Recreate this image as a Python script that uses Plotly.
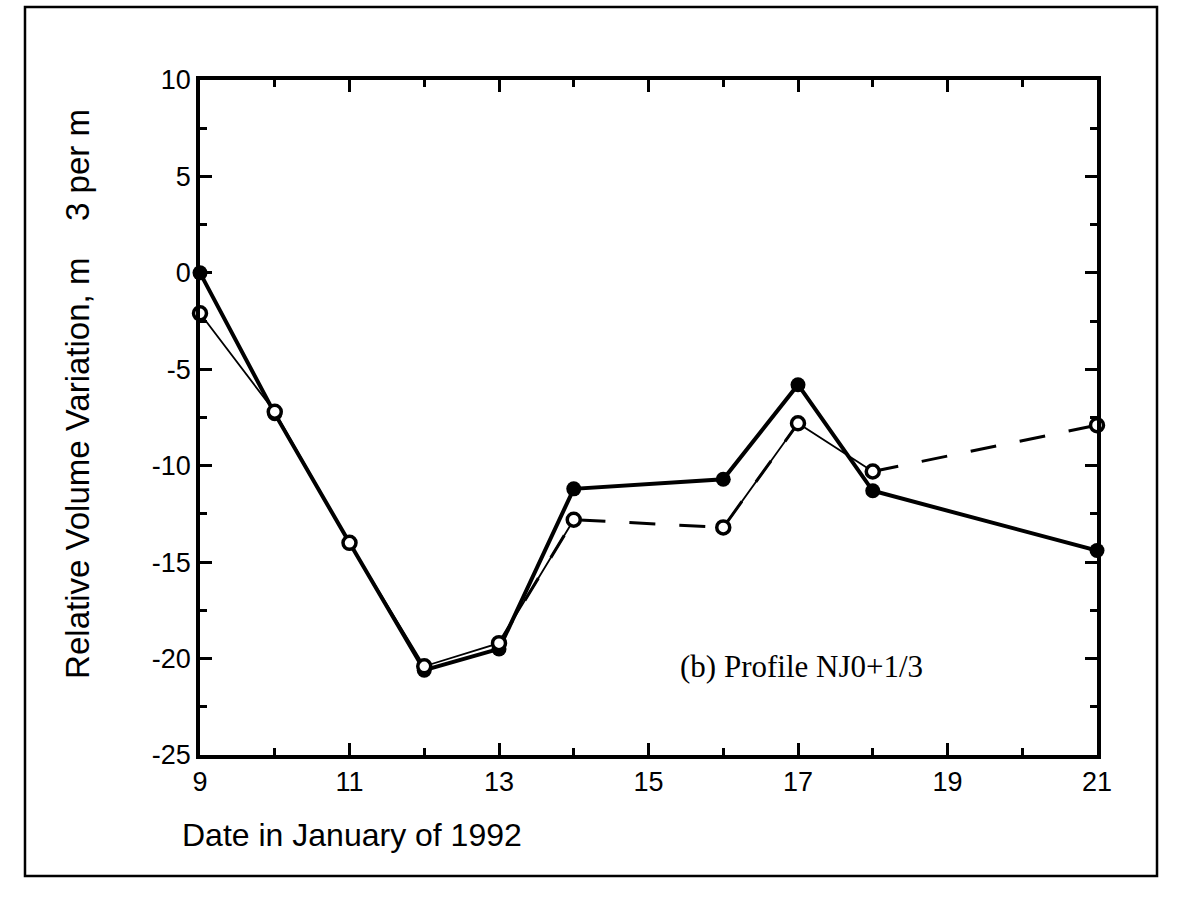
import plotly.graph_objects as go

dates = [9, 10, 11, 12, 13, 14, 16, 17, 18, 21]
filled_vals = [0.0, -7.3, -14.0, -20.6, -19.5, -11.2, -10.7, -5.8, -11.3, -14.4]
open_vals = [-2.1, -7.2, -14.0, -20.4, -19.2, -12.8, -13.2, -7.8, -10.3, -7.9]

x_ticks = [9, 11, 13, 15, 17, 19, 21]
y_ticks = [-25, -20, -15, -10, -5, 0, 5, 10]

# segments of the open series
solid_idx = [0, 1, 2, 3, 4, 5, None, 6, 7, 8]
dash_idx = [4, 5, 6, 7, None, 8, 9]

def pick(idx, arr):
    return [None if i is None else arr[i] for i in idx]

fig = go.Figure()

fig.add_trace(go.Scatter(x=pick(dash_idx, dates), y=pick(dash_idx, open_vals),
                         mode="lines", line=dict(color="black", width=3, dash="26px,24px"),
                         connectgaps=False, showlegend=False, hoverinfo="skip"))
fig.add_trace(go.Scatter(x=pick(solid_idx, dates), y=pick(solid_idx, open_vals),
                         mode="lines", line=dict(color="black", width=1.8),
                         connectgaps=False, showlegend=False, hoverinfo="skip"))
fig.add_trace(go.Scatter(x=dates, y=filled_vals, mode="lines+markers",
                         line=dict(color="black", width=4),
                         marker=dict(symbol="circle", size=15, color="black"),
                         cliponaxis=False, showlegend=False))
fig.add_trace(go.Scatter(x=dates, y=open_vals, mode="markers",
                         marker=dict(symbol="circle", size=13, color="white",
                                     line=dict(color="black", width=3.5)),
                         cliponaxis=False, showlegend=False))

axis_font = dict(family="Liberation Sans, Arial, sans-serif", size=27, color="black")

fig.update_xaxes(range=[9, 21], tickvals=x_ticks, ticktext=[str(v) for v in x_ticks],
                 ticks="inside", ticklen=12, tickwidth=3, tickcolor="black",
                 minor=dict(dtick=1, tick0=9, ticks="inside", ticklen=7, tickwidth=2.5, tickcolor="black"),
                 showline=True, linewidth=3.5, linecolor="black", mirror="ticks",
                 showgrid=False, zeroline=False, tickfont=axis_font)
fig.update_yaxes(range=[-25, 10], tickvals=y_ticks, ticktext=[str(v) for v in y_ticks],
                 ticks="inside", ticklen=12, tickwidth=3, tickcolor="black",
                 minor=dict(dtick=2.5, tick0=0, ticks="inside", ticklen=7, tickwidth=2.5, tickcolor="black"),
                 showline=True, linewidth=3.5, linecolor="black", mirror="ticks",
                 showgrid=False, zeroline=False, tickfont=axis_font)

fig.update_layout(
    width=1187, height=907,
    margin=dict(l=200, r=90, t=80, b=152),
    paper_bgcolor="white", plot_bgcolor="white",
    shapes=[dict(type="rect", xref="paper", yref="paper",
                 x0=-0.1951, x1=1.0669, y0=-0.1793, y1=1.1081,
                 line=dict(color="black", width=2.5), fillcolor="rgba(0,0,0,0)", layer="below")],
    annotations=[
        dict(text="Relative Volume Variation, m\u00a0\u00a0\u00a0\u00a03 per m",
             xref="paper", yref="paper", x=-0.136, y=0.535, textangle=-90,
             showarrow=False, font=dict(family="Liberation Sans, Arial, sans-serif", size=33, color="black"),
             xanchor="center", yanchor="middle"),
        dict(text="Date in January of 1992", xref="paper", yref="paper",
             x=-0.022, y=-0.1185, xanchor="left", yanchor="middle", showarrow=False,
             font=dict(family="Liberation Sans, Arial, sans-serif", size=32, color="black")),
        dict(text="(b) Profile NJ0+1/3", xref="x", yref="y", x=15.4, y=-20.4,
             xanchor="left", yanchor="middle", showarrow=False,
             font=dict(family="Liberation Serif, Times New Roman, serif", size=31, color="black")),
    ],
)

fig.write_html("out.html")
